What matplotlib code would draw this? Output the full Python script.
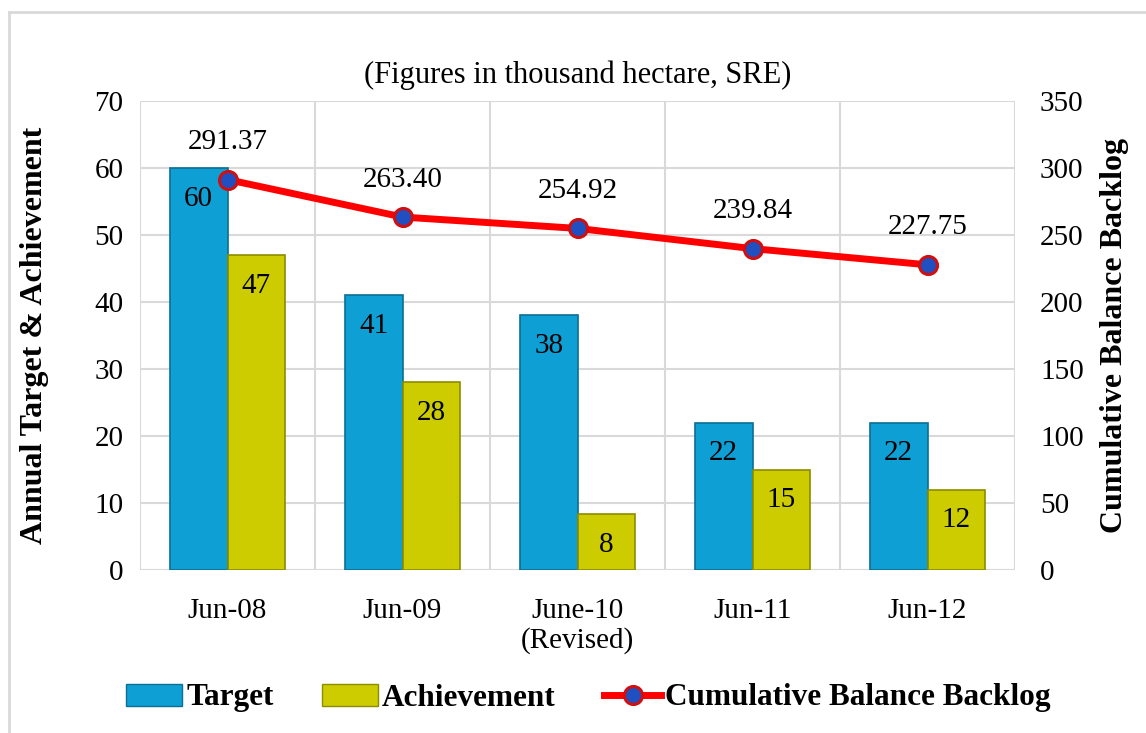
import matplotlib
matplotlib.use("Agg")
import matplotlib.pyplot as plt
import numpy as np
from matplotlib.lines import Line2D
from matplotlib.patches import Patch

categories = ["Jun-08", "Jun-09", "June-10\n(Revised)", "Jun-11", "Jun-12"]
target = [60, 41, 38, 22, 22]
achievement = [47, 28, 8.35, 15, 12]
backlog = [291.37, 263.40, 254.92, 239.84, 227.75]
left_ticks = [0, 10, 20, 30, 40, 50, 60, 70]
right_ticks = [0, 50, 100, 150, 200, 250, 300, 350]

plt.rcParams['font.family'] = ['Liberation Serif', 'DejaVu Serif']

fig = plt.figure(figsize=(11.46, 7.33), dpi=100)
ax = fig.add_axes([140/1146, 1-570/733, 875/1146, 469/733])
ax2 = ax.twinx()

x = np.arange(len(categories))
w = 0.33
c_t, e_t = '#0EA0D4', '#0B6F93'
c_a, e_a = '#CCCC00', '#8C8C00'
ax.bar(x - w/2, target, w, color=c_t, edgecolor=e_t, linewidth=1.2, zorder=3)
ax.bar(x + w/2, achievement, w, color=c_a, edgecolor=e_a, linewidth=1.2, zorder=3)

fs = 21
for xi, v in zip(x - w/2, target):
    ax.annotate(f"{v:.0f}", (xi, v), xytext=(0, -22), textcoords='offset points',
                ha='center', va='center', fontsize=fs, zorder=5)
for xi, v in zip(x + w/2, achievement):
    ax.annotate(f"{v:.0f}", (xi, v), xytext=(0, -22), textcoords='offset points',
                ha='center', va='center', fontsize=fs, zorder=5)

ax.set_xlim(-0.5, len(categories) - 0.5)
ax.set_ylim(0, 70)
ax.set_yticks(left_ticks)
ax2.set_ylim(0, 350)
ax2.set_yticks(right_ticks)
ax.set_xticks(x)
ax.set_xticklabels(categories, fontsize=fs, linespacing=1.15)
ax.set_xticks(np.arange(len(categories) + 1) - 0.5, minor=True)
ax.tick_params(axis='x', which='both', length=0, pad=20)
ax.tick_params(axis='y', length=0, labelsize=fs, pad=12)
ax2.tick_params(axis='y', length=0, labelsize=fs, pad=18)
ax.grid(True, axis='y', which='major', color='#D9D9D9', linewidth=1.5, zorder=0)
ax.grid(True, axis='x', which='minor', color='#D9D9D9', linewidth=1.5, zorder=0)
for a in (ax, ax2):
    for s in a.spines.values():
        s.set_visible(False)
ax.set_axisbelow(True)

ax2.plot(x, backlog, color='#FF0000', linewidth=5, marker='o', markersize=13,
         markerfacecolor='#1F4FC0', markeredgecolor='#D01010', markeredgewidth=2.2, zorder=6)
for xi, v in zip(x, backlog):
    ax2.annotate(f"{v:.2f}", (xi, v), xytext=(0, 27), textcoords='offset points',
                 ha='center', va='center', fontsize=fs)

ax.set_ylabel("Annual Target & Achievement", fontsize=23, fontweight='bold')
ax2.set_ylabel("Cumulative Balance Backlog", fontsize=23, fontweight='bold')
ax.yaxis.set_label_coords(-0.104, 0.5)
ax2.yaxis.set_label_coords(1.097, 0.5)

fig.text(578/1146, 1-75/733, "(Figures in thousand hectare, SRE)", ha='center', va='center', fontsize=22)

# chart border
fig.add_artist(Line2D([9/1146, 9/1146], [0, 1-12/733], color='#D9D9D9', linewidth=2, transform=fig.transFigure))
fig.add_artist(Line2D([9/1146, 1], [1-12/733, 1-12/733], color='#D9D9D9', linewidth=2, transform=fig.transFigure))

handles = [Patch(facecolor=c_t, edgecolor=e_t, label='Target'),
           Patch(facecolor=c_a, edgecolor=e_a, label='Achievement'),
           Line2D([0], [0], color='#FF0000', linewidth=5, marker='o', markersize=13,
                  markerfacecolor='#1F4FC0', markeredgecolor='#D01010', markeredgewidth=2.2,
                  label='Cumulative Balance Backlog')]
fig.legend(handles=handles, loc='center', bbox_to_anchor=(588/1146, 1-698/733), ncol=3,
           frameon=False, prop={'size': 22.5, 'weight': 'bold'}, handlelength=1.8,
           handletextpad=0.13, columnspacing=1.55)

fig.savefig("out.png", dpi=100)
